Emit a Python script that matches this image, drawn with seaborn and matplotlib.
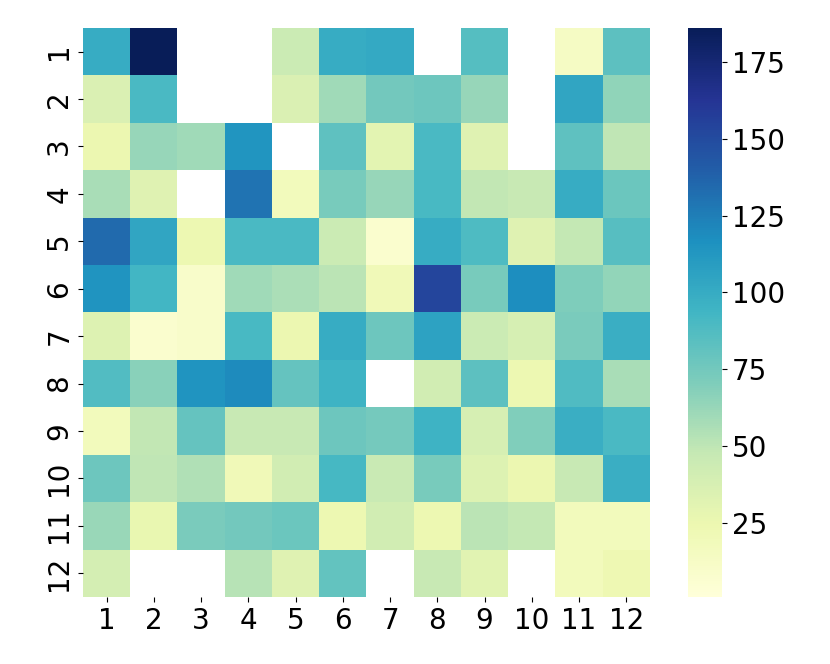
import numpy as np
import pandas as pd
import seaborn as sns
import matplotlib
matplotlib.use("Agg")
import matplotlib.pyplot as plt

# -------------------- Data --------------------
rows = list(range(1, 13))
cols = list(range(1, 13))
nan = np.nan

row_1 = [100, 186, nan, nan, 45, 100, 102, nan, 86, nan, 14, 83]
row_2 = [36, 90, nan, nan, 36, 60, 75, 77, 63, nan, 104, 65]
row_3 = [25, 63, 60, 114, nan, 82, 30, 90, 33, nan, 82, 50]
row_4 = [57, 33, nan, 130, 18, 73, 63, 91, 49, 47, 100, 78]
row_5 = [134, 104, 24, 90, 90, 45, 8, 100, 89, 33, 48, 85]
row_6 = [115, 93, 10, 60, 56, 51, 20, 153, 73, 118, 71, 64]
row_7 = [34, 8, 10, 91, 25, 100, 77, 106, 45, 38, 72, 98]
row_8 = [87, 67, 115, 119, 80, 95, nan, 41, 83, 24, 88, 57]
row_9 = [18, 49, 80, 47, 47, 77, 74, 95, 38, 70, 98, 90]
row_10 = [77, 50, 55, 20, 41, 92, 46, 73, 34, 25, 47, 98]
row_11 = [62, 27, 72, 75, 78, 24, 41, 24, 51, 48, 18, 18]
row_12 = [40, nan, nan, 53, 33, 81, nan, 47, 32, nan, 18, 23]

values = [row_1, row_2, row_3, row_4, row_5, row_6,
          row_7, row_8, row_9, row_10, row_11, row_12]
df = pd.DataFrame(values, index=rows, columns=cols)

# -------------------- Plot --------------------
fig = plt.figure(figsize=(8.3, 6.64), dpi=100)
ax = fig.add_axes([0.1, 0.101, 0.683, 0.857])
cax = fig.add_axes([0.829, 0.101, 0.041, 0.857])

sns.heatmap(df, cmap="YlGnBu", vmin=1, vmax=186, ax=ax, cbar_ax=cax)

ax.tick_params(axis="both", labelsize=20)
ax.set_yticklabels(ax.get_yticklabels(), rotation=90, va="center")
ax.set_xticklabels(ax.get_xticklabels(), rotation=0)
cax.tick_params(labelsize=20)
cax.set_yticks([25, 50, 75, 100, 125, 150, 175])

fig.savefig("out.png", dpi=100)
